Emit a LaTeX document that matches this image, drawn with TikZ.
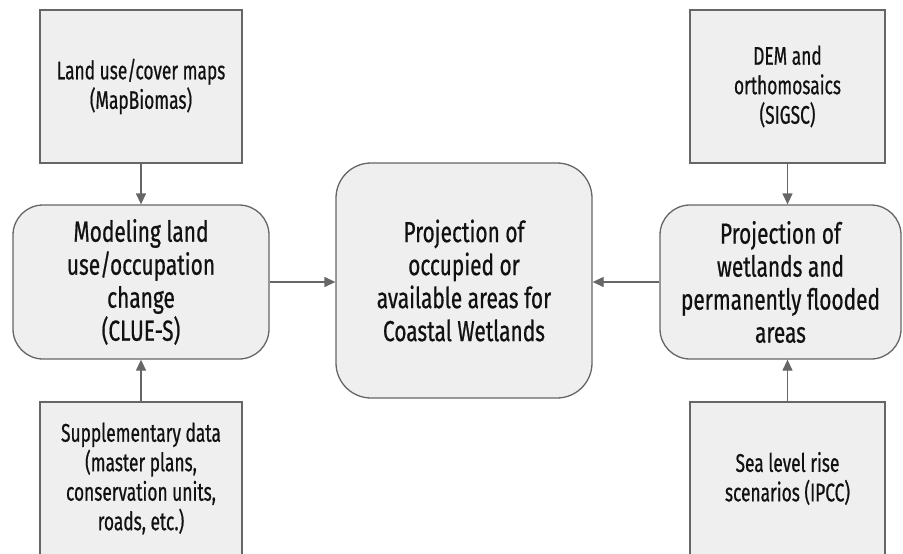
\documentclass[tikz,border=0pt]{standalone}
\usepackage{fontspec}
\setmainfont[FakeStretch=0.78]{Fira Sans}
\newfontfamily\smallfam[FakeStretch=0.68,FakeBold=0.6]{Fira Sans}
\newfontfamily\bigfam[FakeStretch=0.72,FakeBold=0.6]{Fira Sans}
\usetikzlibrary{arrows.meta}
\definecolor{boxfill}{HTML}{EFEFEF}
\definecolor{boxline}{HTML}{666666}
\definecolor{txt}{HTML}{111111}
\tikzset{
  base/.style={draw=boxline, fill=boxfill, line width=1.3pt, text=txt, align=center, inner sep=0pt},
  sqbox/.style={base, font=\smallfam\fontsize{25.5}{29.5}\selectfont},
  rbox/.style={base, rounded corners=30pt, font=\bigfam\fontsize{29}{33}\selectfont},
  conn/.style={draw=boxline, line width=1.3pt, -{Triangle[length=11pt,width=10pt]}}
}
\begin{document}
\begin{tikzpicture}[x=1pt,y=-1pt]
\clip (0,0) rectangle (903,554);
\fill[white] (0,0) rectangle (903,554);
\node[sqbox, minimum width=202pt, minimum height=153pt] (lt) at (141,86.5) {Land use/cover maps\\(MapBiomas)};
\node[rbox, minimum width=256pt, minimum height=154pt] (lm) at (141,282) {Modeling land\\use/occupation\\change\\(CLUE-S)};
\node[sqbox, minimum width=202pt, minimum height=153pt] (lb) at (141,478.5) {Supplementary data\\(master plans,\\conservation units,\\roads, etc.)};
\node[rbox, rounded corners=35pt, minimum width=256pt, minimum height=235pt] (c) at (464,280.5) {Projection of\\occupied or\\available areas for\\Coastal Wetlands};
\node[sqbox, minimum width=195pt, minimum height=153pt] (rt) at (787.5,86.5) {DEM and\\orthomosaics\\(SIGSC)};
\node[rbox, minimum width=241pt, minimum height=154pt] (rm) at (780.5,282) {Projection of\\wetlands and\\permanently flooded\\areas};
\node[sqbox, minimum width=195pt, minimum height=153pt] (rb) at (787.5,478.5) {Sea level rise\\scenarios (IPCC)};
\draw[conn] (lt.south) -- (lm.north);
\draw[conn] (lb.north) -- (lm.south);
\draw[conn] (lm.east) -- (c.west |- lm.east);
\draw[conn] (rm.west) -- (c.east |- rm.west);
\draw[conn] (rt.south) -- (rt.south |- rm.north);
\draw[conn] (rb.north) -- (rb.north |- rm.south);
\end{tikzpicture}
\end{document}
